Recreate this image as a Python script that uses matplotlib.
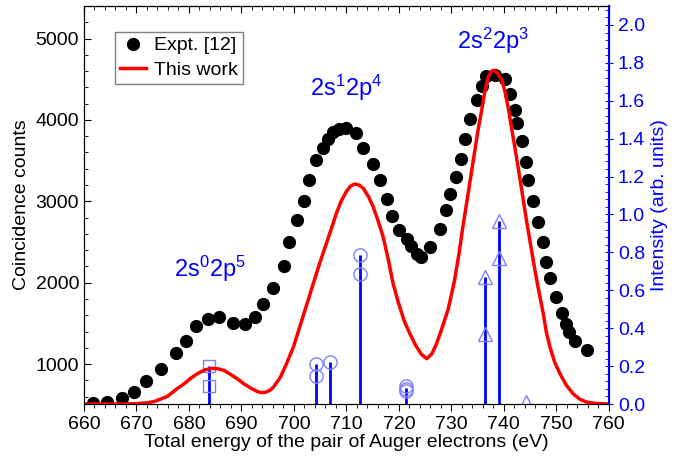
import matplotlib
matplotlib.use('Agg')
import matplotlib.pyplot as plt
from matplotlib.ticker import MultipleLocator

plt.rcParams['font.family'] = ['Liberation Sans', 'DejaVu Sans']
plt.rcParams['mathtext.default'] = 'regular'

# experiment (counts)
expt_e = [661.7, 664.4, 667.2, 669.5, 671.8, 674.7, 677.5, 679.4, 681.3, 683.6,
          685.8, 688.3, 690.6, 692.5, 694.2, 696.1, 698.2, 699.0, 700.5, 701.9,
          702.8, 704.3, 705.6, 706.5, 707.5, 708.6, 709.9, 711.8, 713.2, 715.0,
          716.4, 717.7, 718.6, 720.1, 721.5, 722.4, 723.4, 724.2, 726.0, 727.8,
          728.9, 729.8, 730.8, 731.8, 732.7, 733.5, 734.9, 735.8, 736.7, 738.3,
          740.2, 741.1, 742.1, 742.5, 743.4, 744.3, 744.6, 745.6, 746.5, 747.4,
          748.0, 748.8, 749.9, 751.0, 751.9, 752.4, 753.5, 755.8]
expt_counts = [518, 537, 579, 653, 795, 942, 1131, 1282, 1466, 1556,
               1577, 1507, 1491, 1573, 1736, 1941, 2211, 2501, 2775, 3010,
               3258, 3503, 3654, 3769, 3850, 3883, 3904, 3838, 3659, 3463,
               3258, 3025, 2816, 2644, 2542, 2448, 2358, 2317, 2439, 2656,
               2890, 3094, 3298, 3524, 3769, 4015, 4248, 4411, 4534, 4558,
               4505, 4321, 4117, 3961, 3736, 3482, 3258, 3000, 2746, 2501,
               2255, 2052, 1826, 1629, 1499, 1396, 1286, 1172]

# this work (arb. units)
theo_e = [660.0, 666.0, 668.0, 670.0, 672.0, 673.5, 674.5, 675.9, 677.7, 679.0,
          680.3, 681.6, 683.0, 684.4, 685.5, 686.7, 688.0, 689.2, 690.5, 691.8,
          693.0, 693.8, 694.6, 695.4, 696.1, 697.4, 698.6, 699.9, 701.1, 702.4,
          703.7, 705.0, 706.2, 707.2, 708.1, 709.0, 710.0, 710.8, 711.6, 712.4,
          713.2, 714.2, 715.1, 716.0, 717.0, 718.0, 718.9, 719.8, 721.0, 722.1,
          723.2, 724.3, 725.3, 726.3, 727.2, 728.1, 729.4, 730.6, 731.5, 732.2,
          733.2, 734.2, 735.0, 735.8, 736.4, 737.0, 737.6, 738.1, 738.8, 739.6,
          740.3, 740.9, 741.7, 742.5, 743.3, 744.0, 744.8, 745.6, 746.5, 747.5,
          748.1, 748.8, 749.7, 750.7, 751.9, 753.2, 754.5, 755.8, 757.5, 760.0]
theo_int = [0.0, 0.0, 0.0, 0.002, 0.006, 0.014, 0.025, 0.040, 0.080, 0.105,
            0.135, 0.160, 0.180, 0.188, 0.186, 0.177, 0.155, 0.133, 0.106, 0.084,
            0.066, 0.060, 0.062, 0.072, 0.089, 0.140, 0.213, 0.300, 0.406, 0.520,
            0.636, 0.750, 0.848, 0.930, 1.006, 1.070, 1.121, 1.150, 1.161, 1.155,
            1.139, 1.095, 1.041, 0.970, 0.883, 0.760, 0.636, 0.545, 0.440, 0.371,
            0.310, 0.262, 0.239, 0.265, 0.320, 0.390, 0.500, 0.650, 0.800, 0.935,
            1.110, 1.288, 1.430, 1.553, 1.650, 1.721, 1.755, 1.761, 1.745, 1.712,
            1.640, 1.553, 1.420, 1.288, 1.150, 1.024, 0.890, 0.759, 0.620, 0.480,
            0.380, 0.300, 0.220, 0.160, 0.100, 0.054, 0.025, 0.010, 0.003, 0.0]

# sticks
stick_e = [683.8, 704.3, 706.9, 712.6, 721.3, 736.4, 739.0]
stick_top = [0.198, 0.213, 0.221, 0.785, 0.085, 0.668, 0.967]

sq_e = [683.8, 683.8]
sq_int = [0.198, 0.096]
circ_e = [704.3, 704.3, 706.9, 712.6, 712.6, 721.3, 721.3, 721.3]
circ_int = [0.213, 0.147, 0.221, 0.785, 0.685, 0.093, 0.080, 0.068]
tri_e = [736.4, 736.4, 739.0, 739.0, 744.2]
tri_int = [0.668, 0.371, 0.967, 0.768, 0.01]

# configuration labels (energy, counts)
conf_labels = ['$2s^{0}2p^{5}$', '$2s^{1}2p^{4}$', '$2s^{2}2p^{3}$']
conf_e = [684.0, 710.0, 738.0]
conf_counts = [2170, 4390, 4975]

blue = '#0000ff'
light = '#8080ff'

fig = plt.figure(figsize=(6.84, 4.59), dpi=100)
ax = fig.add_axes([0.1228, 0.1198, 0.7672, 0.8672])
ax2 = ax.twinx()

ax.plot(expt_e, expt_counts, 'o', color='black', ms=8.5, label='Expt. [12]')
ax.plot([], [], color='red', lw=2.5, label='This work')

ax2.vlines(stick_e, 0, stick_top, color=blue, lw=2)
ax2.plot(sq_e, sq_int, 's', mfc='none', mec=light, ms=9, mew=1)
ax2.plot(circ_e, circ_int, 'o', mfc='none', mec=light, ms=9.5, mew=1)
ax2.plot(tri_e, tri_int, '^', mfc='none', mec=light, ms=10, mew=1)
ax2.plot(theo_e, theo_int, color='red', lw=2.5, solid_joinstyle='round')

ax.set_xlim(660, 760)
ax.set_ylim(510, 5400)
ax2.set_ylim(0, 2.1)

ax.xaxis.set_major_locator(MultipleLocator(10))
ax.xaxis.set_minor_locator(MultipleLocator(2))
ax.yaxis.set_major_locator(MultipleLocator(1000))
ax.yaxis.set_minor_locator(MultipleLocator(200))
ax2.yaxis.set_major_locator(MultipleLocator(0.2))
ax2.yaxis.set_minor_locator(MultipleLocator(0.04))
ax2.yaxis.set_major_formatter(plt.FormatStrFormatter('%.1f'))

ax.tick_params(axis='x', which='both', direction='out', labelsize=14)
ax.tick_params(axis='x', which='major', length=5)
ax.tick_params(axis='x', which='minor', length=3)
ax.tick_params(axis='y', which='both', direction='in', labelsize=14)
ax.tick_params(axis='y', which='major', length=5)
ax.tick_params(axis='y', which='minor', length=3)
ax2.tick_params(axis='y', which='major', direction='inout', length=6, colors=blue, labelsize=14)
ax2.tick_params(axis='y', which='minor', direction='in', length=3, colors=blue)
ax2.spines['right'].set_color(blue)
ax2.spines['right'].set_linewidth(1.5)

# top ticks point inward
top = ax.secondary_xaxis('top')
top.xaxis.set_major_locator(MultipleLocator(10))
top.xaxis.set_minor_locator(MultipleLocator(2))
top.tick_params(which='both', direction='in', labeltop=False)
top.tick_params(which='major', length=5)
top.tick_params(which='minor', length=3)

ax.set_xlabel('Total energy of the pair of Auger electrons (eV)', fontsize=14, labelpad=1)
ax.set_ylabel('Coincidence counts', fontsize=14)
ax2.set_ylabel('Intensity (arb. units)', fontsize=14, color=blue)

for lab, e, c in zip(conf_labels, conf_e, conf_counts):
    ax.text(e, c, lab, color=blue, fontsize=17, ha='center', va='center')

leg = ax.legend(loc='upper left', bbox_to_anchor=(0.059, 0.935), fontsize=14,
                fancybox=False, edgecolor='gray', framealpha=1,
                handlelength=1.35, handletextpad=0.4, borderpad=0.25,
                borderaxespad=0, labelspacing=0.35)
leg.get_frame().set_linewidth(1)

fig.savefig('out.png', dpi=100)
